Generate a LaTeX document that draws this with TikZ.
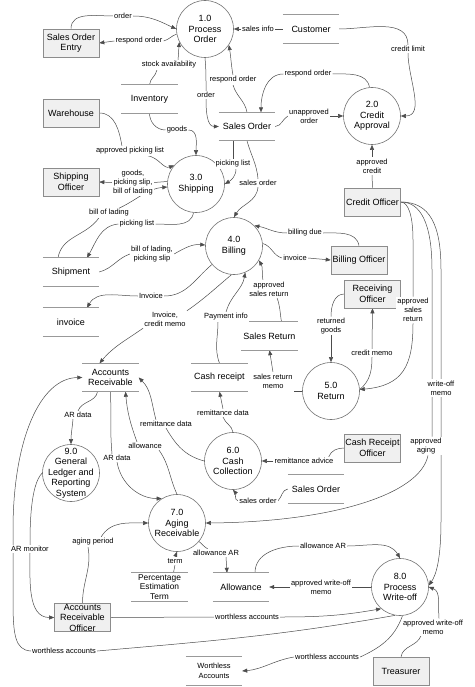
\documentclass[tikz,border=0pt]{standalone}
\usepackage{fontspec}
\setmainfont{Liberation Sans}
\usetikzlibrary{arrows.meta,calc}
\pgfdeclarelayer{bg}
\pgfdeclarelayer{paper}
\pgfsetlayers{paper,bg,main}
\newcommand\procnode[3]{\node[procshape] (#1) at (#2) {}; \node[ptext] (#1t) at (#1) {#3};}
\newcommand\extnode[3]{\node[extshape] (#1) at (#2) {}; \node[etext] (#1t) at (#1) {#3};}
\newcommand\storenode[4][\fontsize{9}{10.5}\selectfont]{\node[storeshape] (#2) at (#3) {}; \node[stext,font=#1] (#2t) at (#2) {#4};}
\begin{document}
\begin{tikzpicture}[x=1pt,y=-1pt,
 procshape/.style={circle, draw=black!55, line width=0.6pt, minimum size=57pt, inner sep=0pt},
 ptext/.style={align=center, font=\fontsize{9}{10.5}\selectfont, inner sep=0pt},
 extshape/.style={rectangle, draw=black!45, fill=black!6, line width=0.6pt, minimum width=56pt, minimum height=28pt, inner sep=0pt},
 etext/.style={align=center, font=\fontsize{9}{10.5}\selectfont, inner sep=0pt},
 storeshape/.style={minimum width=56pt, minimum height=28pt, inner sep=0pt},
 stext/.style={align=center, inner sep=0pt},
 storeline/.style={draw=black!40, line width=0.7pt},
 lbl/.style={fill=white, inner sep=1.1pt, align=center, font=\fontsize{7.5}{9.3}\selectfont},
 flow/.style={draw=black!70, line width=0.5pt},
 arr/.style={flow, -{Triangle[length=5pt,width=4pt]}}]
\begin{pgfonlayer}{paper}
\fill[white] (0,0) rectangle (474,687);
\end{pgfonlayer}
\useasboundingbox (0,0) rectangle (474,687);

% processes
\procnode{p1}{205,29}{1.0\\Process\\Order}
\procnode{p2}{372,116}{2.0\\Credit\\Approval}
\procnode{p3}{196,184}{3.0\\Shipping}
\procnode{p4}{234,246}{4.0\\Billing}
\procnode{p5}{331,391}{5.0\\Return}
\procnode{p6}{233,461}{6.0\\Cash\\Collection}
\procnode{p7}{177,523}{7.0\\Aging\\Receivable}
\procnode{p8}{400,587}{8.0\\Process\\Write-off}
\procnode{p9}{71,473}{9.0\\General\\Ledger and\\Reporting\\System}

% external entities
\extnode{soe}{71,43}{Sales Order\\Entry}
\extnode{wh}{71,113}{Warehouse}
\extnode{sho}{71,182}{Shipping\\Officer}
\extnode{co}{372.5,202}{Credit Officer}
\extnode{bo}{359,260}{Billing Officer}
\extnode{ro}{372.5,294}{Receiving\\Officer}
\extnode{cro}{372.5,448}{Cash Receipt\\Officer}
\extnode{aro}{82.5,617.5}{Accounts\\Receivable\\Officer}
\extnode{tr}{401,671}{Treasurer}

% data stores
\storenode{cust}{311,29}{Customer}
\storenode{inv}{149.5,99}{Inventory}
\storenode{so1}{247,126.5}{Sales Order}
\storenode{shp}{71,272}{Shipment}
\storenode{inv2}{71,322}{invoice}
\storenode{ar}{110.5,377.5}{Accounts\\Receivable}
\storenode{cr}{219.5,377.5}{Cash receipt}
\storenode{sr}{269.5,336}{Sales Return}
\storenode{so2}{316,489}{Sales Order}
\storenode[\fontsize{8.4}{9.8}\selectfont]{pet}{159.5,587}{Percentage\\Estimation\\Term}
\storenode{alw}{241,587}{Allowance}
\storenode[\fontsize{7.5}{10}\selectfont]{wa}{214,671}{Worthless\\Accounts}
\foreach \s in {cust,inv,so1,shp,inv2,ar,cr,sr,so2,pet,alw,wa}{
  \draw[storeline] (\s.north west) -- (\s.north east) (\s.south west) -- (\s.south east);}

% labels
\node[lbl] (l1) at (123,16) {order};
\node[lbl] (l2) at (139,41) {respond order};
\node[lbl] (l3) at (169,65) {stock availability};
\node[lbl] (l4) at (258,29) {sales info};
\node[lbl] (l5) at (233,80) {respond order};
\node[lbl] (l6) at (206,95) {order};
\node[lbl] (l7) at (408,49) {credit limit};
\node[lbl] (l8) at (308,74) {respond order};
\node[lbl] (l9) at (309,116) {unapproved\\order};
\node[lbl] (l10) at (372,166) {approved\\credit};
\node[lbl] (l11) at (130,151) {approved picking list};
\node[lbl] (l12) at (177,130) {goods};
\node[lbl] (l13) at (133,182.5) {goods,\\picking slip,\\bill of lading};
\node[lbl] (l14) at (233,164) {picking list};
\node[lbl] (l15) at (258,183) {sales order};
\node[lbl] (l16) at (109,213) {bill of lading};
\node[lbl] (l17) at (137,224) {picking list};
\node[lbl] (l18) at (152,254) {bill of lading,\\picking slip};
\node[lbl] (l19) at (151,296) {Invoice};
\node[lbl] (l20) at (165,319.5) {Invoice,\\credit memo};
\node[lbl] (l21) at (305,233) {billing due};
\node[lbl] (l22) at (295,258) {invoice};
\node[lbl] (l23) at (269,289) {approved\\sales return};
\node[lbl] (l24) at (226,317) {Payment info};
\node[lbl] (l25) at (331,326) {returned\\goods};
\node[lbl] (l26) at (372,353) {credit memo};
\node[lbl] (l27) at (413,310) {approved\\sales\\return};
\node[lbl] (l28) at (273,381) {sales return\\memo};
\node[lbl] (l29) at (223,413) {remittance data};
\node[lbl] (l30) at (166,424) {remittance data};
\node[lbl] (l31) at (304,461) {remittance advice};
\node[lbl] (l32) at (258,501) {sales order};
\node[lbl] (l33) at (78,415) {AR data};
\node[lbl] (l34) at (117,458) {AR data};
\node[lbl] (l35) at (145,446) {allowance};
\node[lbl] (l36) at (30,549) {AR monitor};
\node[lbl] (l37) at (64,651) {worthless accounts};
\node[lbl] (l38) at (247,617) {worthless accounts};
\node[lbl] (l39) at (93,542) {aging period};
\node[lbl] (l40) at (175,561) {term};
\node[lbl] (l41) at (216,553) {allowance AR};
\node[lbl] (l42) at (323,546) {allowance AR};
\node[lbl] (l43) at (321,587) {approved write-off\\memo};
\node[lbl] (l44) at (433,627) {approved write-off\\memo};
\node[lbl] (l45) at (441,388) {write-off\\memo};
\node[lbl] (l46) at (426,446) {approved\\aging};
\node[lbl] (l47) at (327,657) {worthless accounts};

\begin{pgfonlayer}{bg}
\draw[flow] (soe.north) to[out=90,in=180] (l1.west);
\draw[arr] (l1.east) to[out=0,in=155] (p1.180);
\draw[flow] (p1.190) to[out=200,in=15] (l2.east);
\draw[arr] (l2.west) -- (soe.east);
\draw[flow] (inv.north) to[out=85,in=-100] ($(l3.south)+(-12,0)$);
\draw[arr] ($(l3.north)+(9,0)$) to[out=85,in=-95] (p1.207);
\draw[flow] (cust.west) -- (l4.east);
\draw[arr] (l4.west) -- (p1.east);
\draw[flow] (so1.north) to[out=100,in=-75] (l5.south);
\draw[arr] (l5.north) to[out=100,in=-80] (p1.-34);
\draw[flow] (p1.south) to[out=-85,in=90] (l6.north);
\draw[arr] (l6.south) to[out=-90,in=180] (so1.west);
\draw[flow] (cust.east) to[out=0,in=90] (l7.north);
\draw[arr] (l7.south) to[out=-90,in=0] (p2.east);
\draw[flow] (p2.95) to[out=100,in=0] (l8.east);
\draw[arr] (l8.west) to[out=180,in=90] ($(so1.north)+(14,0)$);
\draw[flow] (so1.east) to[out=5,in=210] (l9.west);
\draw[arr] (l9.east) -- (p2.west);
\draw[flow] (co.north) -- (l10.south);
\draw[arr] (l10.north) -- (p2.south);
\draw[flow] (wh.east) to[out=0,in=100] ($(l11.north)+(-8,0)$);
\draw[arr] ($(l11.south)+(18,0)$) to[out=-10,in=200] (p3.140);
\draw[flow] (inv.south) to[out=-90,in=180] (l12.west);
\draw[arr] (l12.east) to[out=0,in=90] (p3.north);
\draw[flow] (p3.175) -- (l13.east);
\draw[arr] (l13.west) -- (sho.east);
\draw[flow] ($(so1.south)+(-14,0)$) -- (l14.north);
\draw[arr] ($(l14.south)+(3,0)$) to[out=-90,in=30] (p3.east);
\draw[flow] (so1.south) to[out=-75,in=95] (l15.north);
\draw[arr] (l15.south) to[out=-95,in=60] (p4.north);
\draw[flow] ($(shp.north)+(-13,0)$) to[out=80,in=-125] ($(l16.south)+(-10,0)$);
\draw[arr] ($(l16.north)+(10,0)$) to[out=25,in=185] (p3.186);
\draw[flow] (p3.265) to[out=-100,in=0] (l17.east);
\draw[arr] (l17.west) to[out=185,in=60] ($(shp.north)+(16,0)$);
\draw[flow] (shp.east) to[out=15,in=200] (l18.west);
\draw[arr] (l18.east) to[out=30,in=175] (p4.178);
\draw[flow] (p4.220) to[out=220,in=0] (l19.east);
\draw[arr] (l19.west) to[out=180,in=60] ($(inv2.north)+(16,0)$);
\draw[flow] (p4.265) to[out=220,in=35] (l20.north east);
\draw[arr] (l20.south west) to[out=215,in=50] ($(ar.north)+(-11,0)$);
\draw[flow] (bo.north) to[out=100,in=0] (l21.east);
\draw[arr] (l21.west) to[out=180,in=-10] (p4.45);
\draw[flow] (p4.5) to[out=-15,in=165] (l22.west);
\draw[arr] (l22.east) -- (bo.west);
\draw[flow] ($(sr.north)+(12,0)$) to[out=100,in=-70] ($(l23.south)+(8,0)$);
\draw[arr] ($(l23.north)+(-6,0)$) to[out=100,in=-60] (p4.-30);
\draw[flow] (cr.north) to[out=110,in=-90] ($(l24.south)+(-8,0)$);
\draw[arr] (l24.north) to[out=75,in=-100] (p4.-67);
\draw[flow] (ro.west) to[out=180,in=90] (l25.north);
\draw[arr] (l25.south) -- (p5.north);
\draw[flow] (p5.3) to[out=40,in=-90] (l26.south);
\draw[arr] (l26.north) -- (ro.south);
\draw[flow] (co.east) .. controls (408,202) and (413,215) .. (413,240) -- (l27.north);
\draw[arr] (l27.south) to[out=-90,in=5,looseness=1.3] (p5.3);
\draw[flow] (p5.west) -- (l28.east |- p5.west);
\draw[arr] (l28.north) -- (sr.south);
\draw[flow] (p6.north) to[out=100,in=-70] (l29.south);
\draw[arr] (l29.north) -- (cr.south);
\draw[flow] (p6.west) to[out=165,in=-60] (l30.south);
\draw[arr] ($(l30.north)+(-10,0)$) to[out=105,in=-45] (ar.east);
\draw[flow] (cro.west) to[out=180,in=70] ($(l31.north east)+(-6,0)$);
\draw[arr] (l31.west) -- (p6.east);
\draw[flow] (so2.west) to[out=190,in=45] (l32.east);
\draw[arr] (l32.west) to[out=160,in=-50] (p6.south);
\draw[flow] ($(ar.south)+(-13,0)$) to[out=-100,in=70] (l33.north);
\draw[arr] ($(l33.south)+(-5,0)$) to[out=-95,in=90] (p9.north);
\draw[flow] (ar.south) to[out=-88,in=95] ($(l34.north)+(-5,0)$);
\draw[arr] (l34.south) to[out=-80,in=180] (p7.122);
\draw[flow] (p7.north) to[out=115,in=-55] ($(l35.south east)+(-4,0)$);
\draw[arr] ($(l35.north)+(-8,0)$) to[out=110,in=-85] ($(ar.south)+(15,0)$);
\draw[flow] (p9.west) to[out=225,in=90,looseness=0.6] (l36.north);
\draw[arr] (l36.south) to[out=-90,in=180] (aro.west);
\draw[flow] (p8.-100) to[out=190,in=5] (l37.east);
\draw[arr] (l37.west) .. controls (15,650) and (13,635) .. (13,600) -- (13,530) .. controls (13,440) and (40,378) .. (ar.west);
\draw[flow] (aro.east) -- (l38.west);
\draw[arr] (l38.east) to[out=0,in=190] (p8.229);
\draw[flow] (aro.north) to[out=90,in=-80] ($(l39.south)+(-5,0)$);
\draw[arr] ($(l39.north)+(8,0)$) to[out=60,in=180] (p7.west);
\draw[flow] ($(pet.north)+(14,0)$) -- (l40.south);
\draw[arr] (l40.north) -- (p7.south);
\draw[flow] (p7.-40) to[out=-40,in=150] ($(l41.north west)+(16,0)$);
\draw[arr] ($(l41.south)+(10,0)$) -- ($(alw.north)+(-14,0)$);
\draw[flow] ($(alw.north)+(14,0)$) to[out=90,in=180] (l42.west);
\draw[arr] (l42.east) to[out=0,in=120] (p8.north);
\draw[flow] (p8.west) -- (l43.east);
\draw[arr] (l43.west) -- (alw.east);
\draw[flow] (tr.north) to[out=80,in=-110] ($(l44.south)+(-12,0)$);
\draw[arr] ($(l44.north)+(6,0)$) to[out=95,in=-20] (p8.east);
\draw[flow] (co.east) .. controls (430,202) and (441,225) .. (441,270) -- (l45.north);
\draw[arr] (l45.south) -- (441,520) .. controls (441,560) and (436,575) .. (p8.3);
\draw[flow] (co.east) .. controls (420,202) and (432,222) .. (432,270) -- ($(l46.north)+(6,0)$);
\draw[arr] ($(l46.south)+(2,0)$) .. controls (420,495) and (330,522) .. (p7.east);
\draw[flow] (p8.-85) to[out=-110,in=25] (l47.east);
\draw[arr] (l47.west) to[out=190,in=5] (wa.east);
\end{pgfonlayer}
\end{tikzpicture}
\end{document}
